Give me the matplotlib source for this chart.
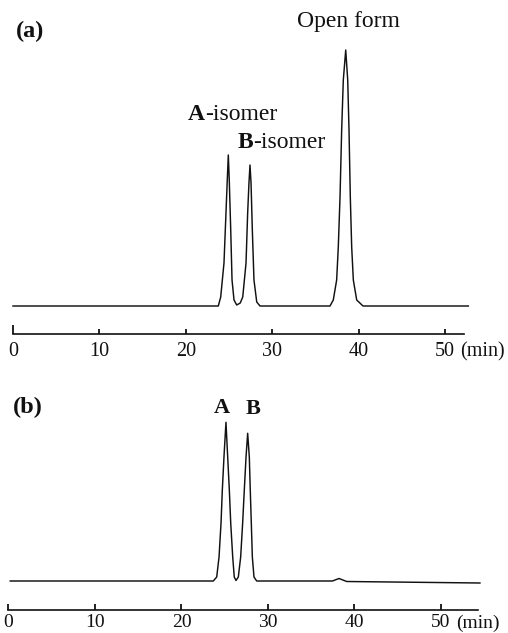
import matplotlib
matplotlib.use("Agg")
import matplotlib.pyplot as plt

plt.rcParams['font.family'] = ['Liberation Serif', 'DejaVu Serif']

# ---------------- data ----------------
# (a) chromatogram: retention time (min) vs detector signal (arb. units)
a_time = [0, 23.76, 24.04, 24.42, 24.65, 24.80, 24.92, 25.03, 25.20, 25.35, 25.58,
          25.89, 26.30, 26.59, 26.97, 27.16, 27.31, 27.43, 27.55, 27.70, 27.89,
          28.21, 28.59, 36.69, 37.07, 37.46, 37.65, 37.85, 38.04, 38.23, 38.51,
          38.74, 38.89, 39.04, 39.20, 39.39, 39.78, 40.51, 52.7]
a_signal = [0, 0, 9, 43, 93, 126, 151, 126, 76, 26, 6,
            1, 3, 9, 43, 93, 123, 141, 123, 76, 26,
            4, 0, 0, 6, 26, 59, 109, 176, 226, 256,
            226, 176, 109, 59, 26, 6, 0, 0]

# (b) chromatogram
b_time = [0.2, 23.68, 24.07, 24.34, 24.57, 24.72, 24.91, 25.14, 25.34, 25.53, 25.69,
          25.92, 26.10, 26.30, 26.57, 26.84, 27.07, 27.26, 27.46, 27.65, 27.84,
          27.95, 28.07, 28.19, 28.38, 28.69, 37.45, 38.21, 39.10, 54.5]
b_signal = [0, 0, 4, 24, 58, 91, 124, 158.7, 124, 91, 58,
            24, 4, 0.5, 4, 24, 58, 91, 124, 147.7, 124,
            91, 58, 24, 4, 0, 0, 2.5, -0.5, -2]

tick_values = [10, 20, 30, 40, 50]
tick_labels = ['10', '20', '30', '40', '50']
zero_tick = [0]
zero_label = ['0']
unit_label = '(min)'

# ---------------- figure ----------------
W, H = 508, 633
fig = plt.figure(figsize=(W / 100, H / 100), dpi=100)
INK = '#111111'


def px_axes(left, right, top, bottom):
    return fig.add_axes([left / W, 1 - bottom / H, (right - left) / W, (bottom - top) / H])


def style(ax, xmax_axis, pad, major_len, minor_len, unit_x, fs):
    for s in ('top', 'left', 'right'):
        ax.spines[s].set_visible(False)
    ax.spines['bottom'].set_linewidth(1.2)
    ax.spines['bottom'].set_color(INK)
    ax.spines['bottom'].set_bounds(0, xmax_axis)
    ax.set_yticks([])
    ax.set_xticks(tick_values)
    ax.set_xticklabels(tick_labels)
    ax.set_xticks(zero_tick, minor=True)
    ax.set_xticklabels(zero_label, minor=True)
    ax.tick_params(axis='x', which='major', direction='in', length=major_len, width=1.3,
                   color=INK, labelsize=fs, pad=pad, labelcolor=INK)
    ax.tick_params(axis='x', which='minor', direction='in', length=minor_len, width=1.3,
                   color=INK, labelsize=fs, pad=pad, labelcolor=INK)
    ax.patch.set_alpha(0)
    ax.annotate(unit_label, xy=(unit_x, 0), xycoords=('data', 'axes fraction'),
                xytext=(0, -pad), textcoords='offset points', ha='left', va='top',
                fontsize=fs, color=INK, annotation_clip=False)


# panel (a)
ax_a = px_axes(0, W, 0, 334)
ax_a.set_xlim(-13 / 8.64, (W - 13) / 8.64)
ax_a.set_ylim(-28, 306)
ax_a.plot(a_time, a_signal, color=INK, lw=1.05, solid_joinstyle='round')
style(ax_a, 52.2, 6.0, 3.8, 6.5, 51.75, 14.5)

ax_a.text(0.35, 269, '(a)', fontsize=17.5, fontweight='bold', ha='left', va='baseline', color=INK)
ax_a.text(32.9, 279, 'Open form', fontsize=17, ha='left', va='baseline', color=INK)
tA = ax_a.text(20.25, 181, 'A', fontsize=17, fontweight='bold', ha='left', va='bottom', color=INK)
ax_a.annotate('-isomer', xy=(1, 0), xycoords=tA, ha='left', va='bottom', fontsize=17, color=INK)
tB = ax_a.text(26.04, 153, 'B', fontsize=17, fontweight='bold', ha='left', va='bottom', color=INK)
ax_a.annotate('-isomer', xy=(1, 0), xycoords=tB, ha='left', va='bottom', fontsize=17, color=INK)

# panel (b)
ax_b = px_axes(0, W, 390, 609.5)
ax_b.set_xlim(-8.5 / 8.65, (W - 8.5) / 8.65)
ax_b.set_ylim(-28.5, 191)
ax_b.plot(b_time, b_signal, color=INK, lw=1.05, solid_joinstyle='round')
style(ax_b, 54.3, 3.5, 4.5, 4.5, 51.75, 14)

ax_b.text(0.52, 168, '(b)', fontsize=17.5, fontweight='bold', ha='left', va='baseline', color=INK)
ax_b.text(24.68, 168, 'A', fontsize=16, fontweight='bold', ha='center', va='baseline', color=INK)
ax_b.text(28.32, 167, 'B', fontsize=16, fontweight='bold', ha='center', va='baseline', color=INK)

fig.savefig('out.png', dpi=100)
